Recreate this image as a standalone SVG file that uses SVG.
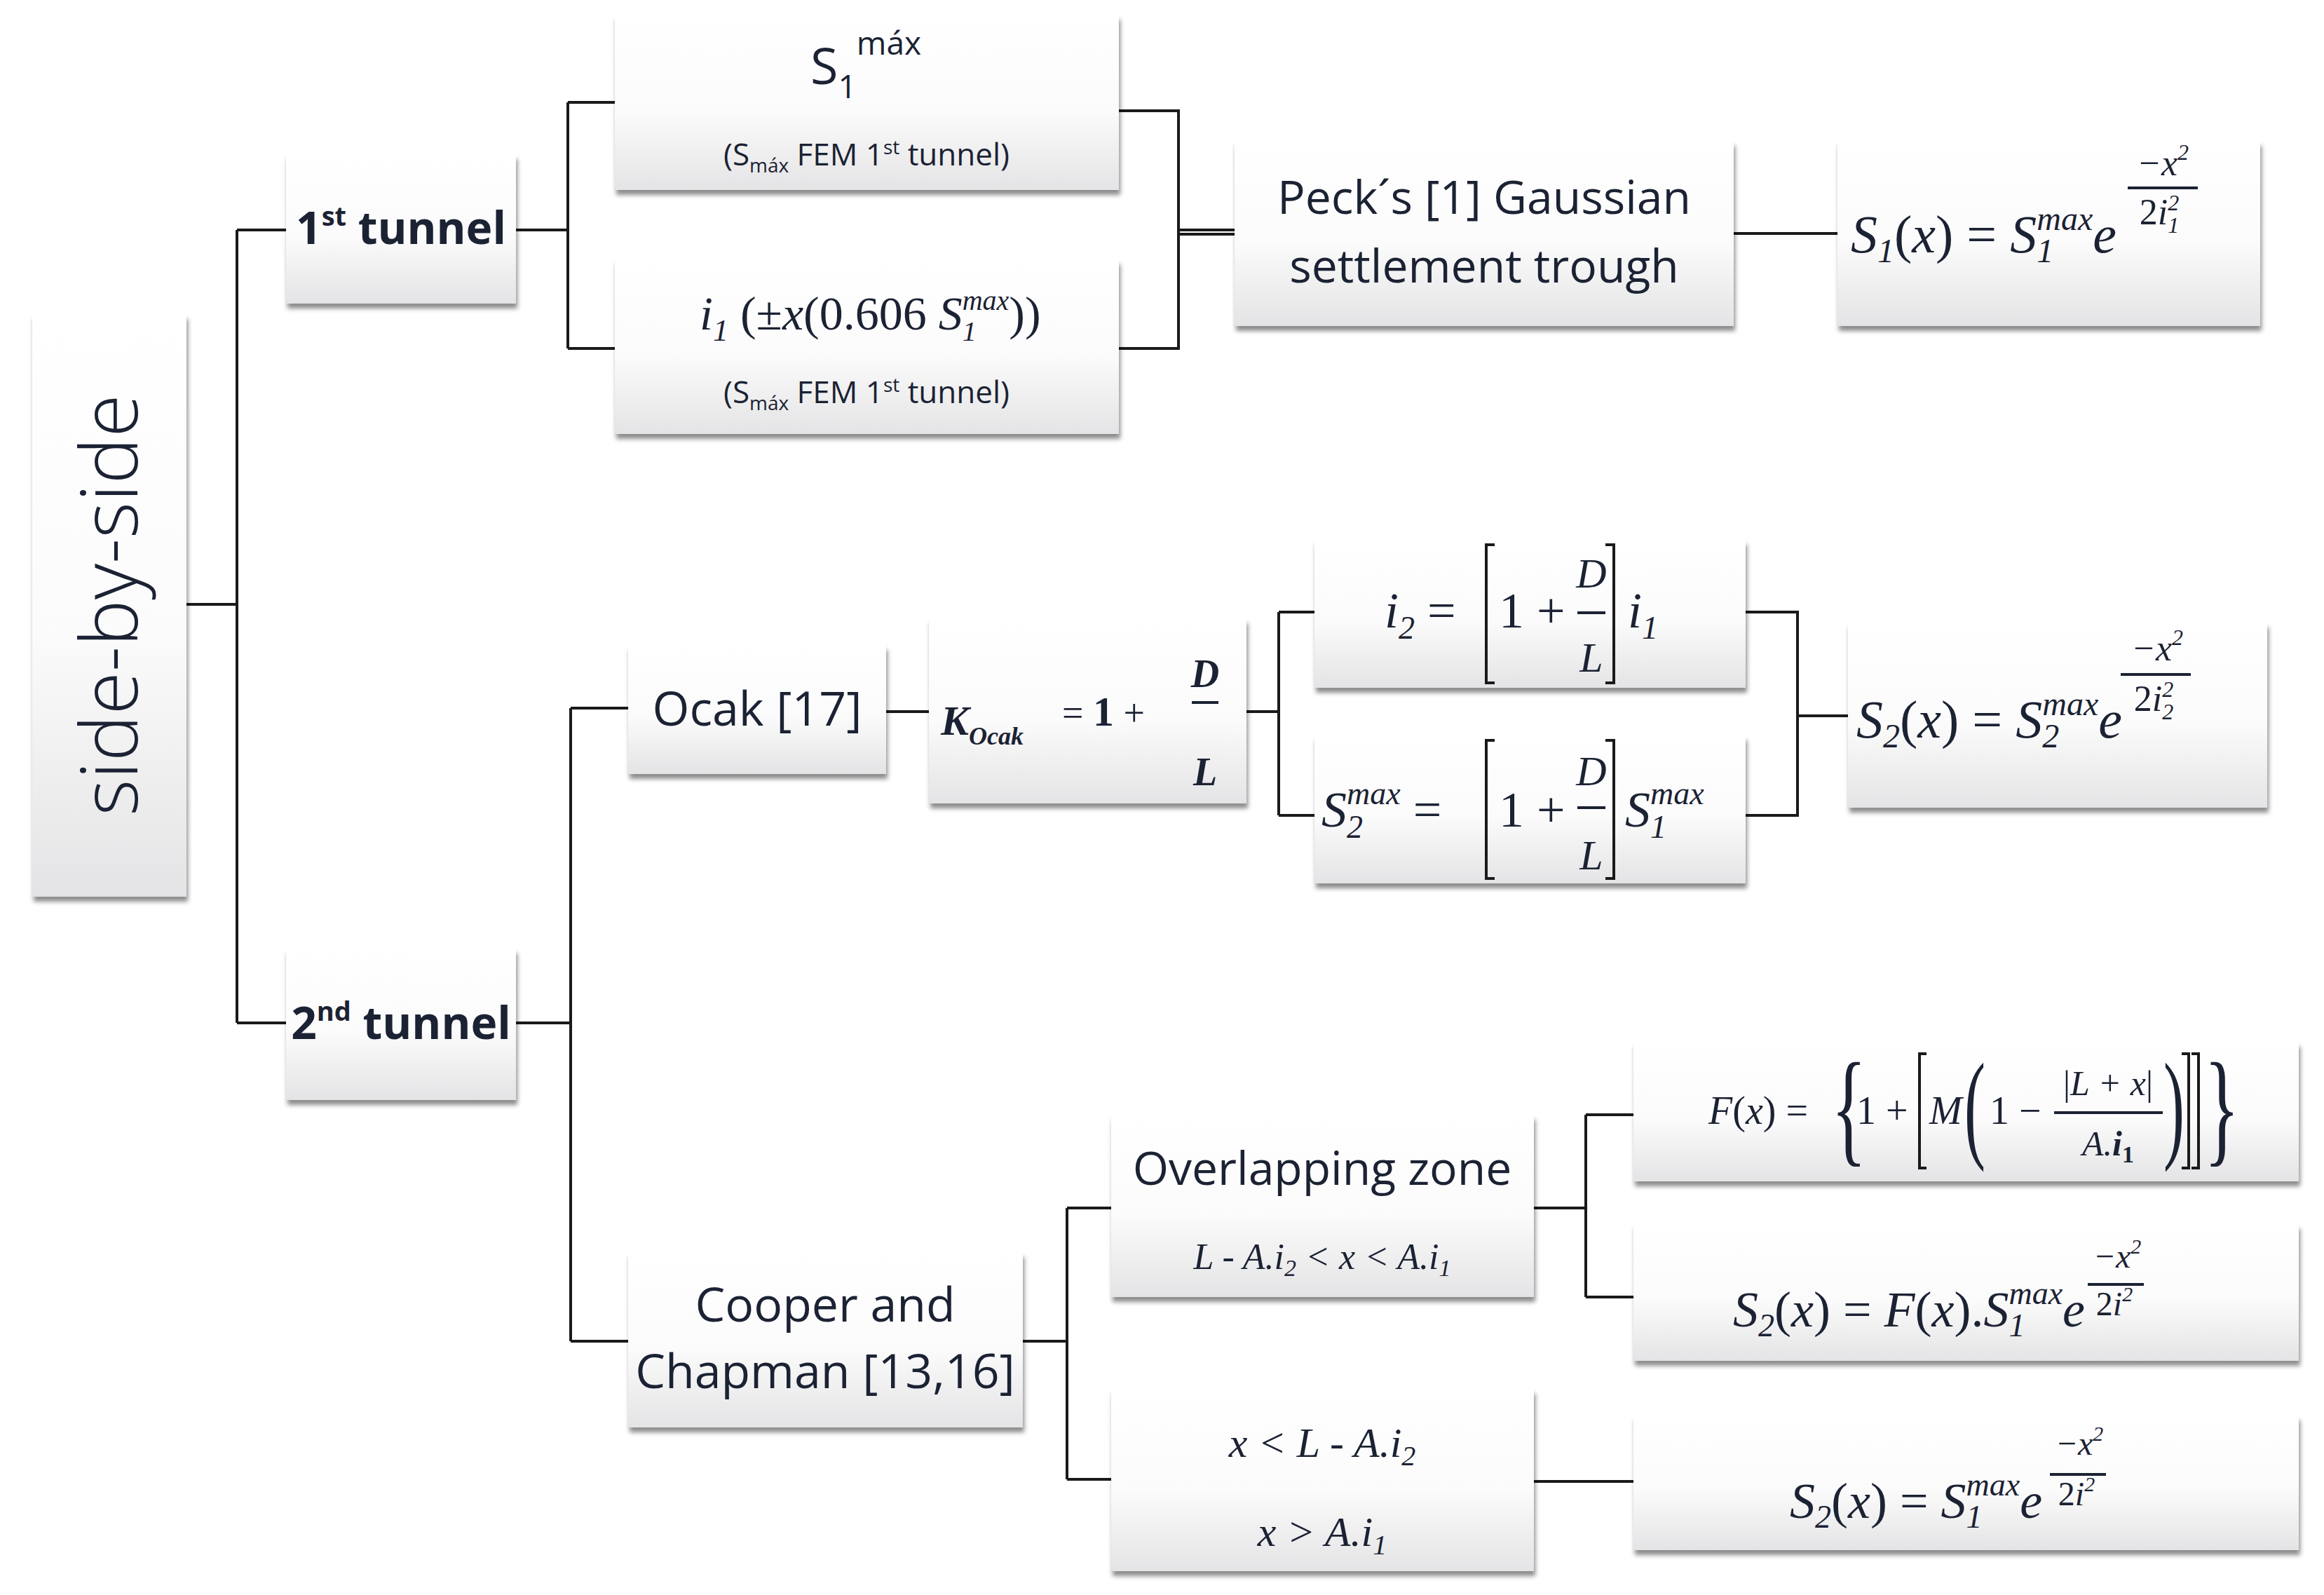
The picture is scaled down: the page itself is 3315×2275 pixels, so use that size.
<svg xmlns="http://www.w3.org/2000/svg" width="3315" height="2275" viewBox="0 0 3315 2275">
<defs>
<linearGradient id="g" x1="0" y1="0" x2="0" y2="1"><stop offset="0" stop-color="#ffffff"/><stop offset="0.55" stop-color="#fbfbfb"/><stop offset="1" stop-color="#e4e4e6"/></linearGradient>
<filter id="sh" x="-5%" y="-5%" width="110%" height="115%"><feDropShadow dx="2" dy="7" stdDeviation="3" flood-color="#000" flood-opacity="0.45"/></filter>
</defs>
<style>
.b{fill:url(#g);filter:url(#sh)}
.t{font-family:"Open Sans","Liberation Sans",sans-serif;fill:#1b2233;text-anchor:middle}
.m{font-family:"Liberation Serif",serif;font-style:italic;fill:#1b2233}
.r{font-family:"Liberation Serif",serif;fill:#1b2233}
.c{fill:none;stroke:#1a1a1a;stroke-width:4}
.fl{stroke:#1b2233;stroke-width:4}
</style>
<rect width="3315" height="2275" fill="#fff"/>
<g id="connectors" class="c">
<path d="M266 862H338M338 328V1459M338 328H408M338 1459H408"/>
<path d="M736 328H810M810 146V497M810 146H877M810 497H877"/>
<path d="M1596 158H1681V497H1596M1681 328H1761M1681 334H1761"/>
<path d="M2473 333H2621"/>
<path d="M736 1459H814M814 1010V1913M814 1010H896M814 1913H896"/>
<path d="M1264 1015H1325"/>
<path d="M1778 1015H1824M1824 873V1163M1824 873H1875M1824 1163H1875"/>
<path d="M2490 873H2564V1163H2490M2564 1021H2636"/>
<path d="M1459 1913H1522M1522 1723V2110M1522 1723H1585M1522 2110H1585"/>
<path d="M2188 1723H2262M2262 1590V1850M2262 1590H2330M2262 1850H2330"/>
<path d="M2188 2113H2330"/>
</g>
<g id="n-side"><rect class="b" x="46" y="448" width="220" height="831"/><text class="t" font-size="112" font-weight="300" transform="translate(196 863) rotate(-90)">side-by-side</text></g>
<g id="n-t1"><rect class="b" x="408" y="220" width="328" height="213"/><text class="t" font-size="64" font-weight="bold" x="572" y="348">1<tspan font-size="38" dy="-26">st</tspan><tspan dy="26"> tunnel</tspan></text></g>
<g id="n-s1max"><rect class="b" x="877" y="21" width="719" height="250"/>
<text class="t" font-size="72" x="1236" y="120" style="text-anchor:start" dx="-80">S<tspan font-size="46" dy="20">1</tspan><tspan font-size="46" dy="-62">máx</tspan></text>
<text class="t" font-size="44" x="1236" y="236">(S<tspan font-size="28" dy="10">máx</tspan><tspan dy="-10"> FEM 1</tspan><tspan font-size="28" dy="-16">st</tspan><tspan dy="16"> tunnel)</tspan></text></g>
<g id="n-i1"><rect class="b" x="877" y="370" width="719" height="249"/>
<text class="m" font-size="68" x="998" y="470">i<tspan font-size="44" dy="16">1</tspan><tspan dy="-16" font-style="normal"> (±</tspan>x<tspan font-style="normal">(0.606 </tspan>S<tspan font-size="40" dy="16">1</tspan><tspan font-size="40" dx="-20" dy="-44">max</tspan><tspan dy="28" font-style="normal">))</tspan></text>
<text class="t" font-size="44" x="1236" y="575">(S<tspan font-size="28" dy="10">máx</tspan><tspan dy="-10"> FEM 1</tspan><tspan font-size="28" dy="-16">st</tspan><tspan dy="16"> tunnel)</tspan></text></g>
<g id="n-peck"><rect class="b" x="1761" y="201" width="712" height="264"/><text class="t" font-size="66" x="2117" y="305">Peck´s [1] Gaussian</text><text class="t" font-size="66" x="2117" y="403">settlement trough</text></g>
<g id="n-s1x"><rect class="b" x="2621" y="201" width="603" height="264"/>
<text class="m" font-size="76" x="2640" y="360">S<tspan font-size="48" dy="14">1</tspan><tspan dy="-14" font-style="normal">(</tspan>x<tspan font-style="normal">) = </tspan>S<tspan font-size="48" dy="14">1</tspan><tspan font-size="48" dx="-24" dy="-46">max</tspan><tspan dy="32">e</tspan></text>
<text class="m" font-size="52" x="3085" y="250" text-anchor="middle">−x<tspan font-size="32" dy="-22">2</tspan></text>
<line class="fl" x1="3035" y1="268" x2="3135" y2="268"/>
<text class="m" font-size="52" x="3080" y="320" text-anchor="middle"><tspan font-style="normal">2</tspan>i<tspan font-size="32" dy="12">1</tspan><tspan font-size="32" dx="-16" dy="-32">2</tspan></text></g>
<g id="n-t2"><rect class="b" x="408" y="1353" width="328" height="216"/><text class="t" font-size="64" font-weight="bold" x="572" y="1482">2<tspan font-size="38" dy="-26">nd</tspan><tspan dy="26"> tunnel</tspan></text></g>
<g id="n-ocak"><rect class="b" x="896" y="920" width="368" height="184"/><text class="t" font-size="68" x="1080" y="1035">Ocak [17]</text></g>
<g id="n-kocak"><rect class="b" x="1325" y="882" width="453" height="264"/>
<text class="m" font-size="60" font-weight="bold" x="1342" y="1048">K<tspan font-size="36" dy="14">Ocak</tspan></text>
<text class="r" font-size="54" x="1515" y="1035">= <tspan font-weight="bold" font-size="60">1</tspan> +</text>
<text class="m" font-size="56" font-weight="bold" x="1719" y="980" text-anchor="middle">D</text>
<line class="fl" x1="1700" y1="1002" x2="1738" y2="1002"/>
<text class="m" font-size="56" font-weight="bold" x="1719" y="1120" text-anchor="middle">L</text></g>
<g id="n-i2"><rect class="b" x="1875" y="770" width="615" height="211"/>
<text class="m" font-size="72" x="1975" y="895">i<tspan font-size="46" dy="16">2</tspan><tspan dy="-16" font-style="normal"> =</tspan></text>
<path class="c" d="M2132 777H2120V974H2132M2290 777H2302V974H2290"/>
<text class="r" font-size="72" x="2138" y="895">1 +</text>
<text class="m" font-size="60" x="2270" y="838" text-anchor="middle">D</text>
<line class="fl" x1="2250" y1="874" x2="2290" y2="874"/>
<text class="m" font-size="60" x="2270" y="958" text-anchor="middle">L</text>
<text class="m" font-size="72" x="2322" y="895">i<tspan font-size="46" dy="16">1</tspan></text></g>
<g id="n-s2max"><rect class="b" x="1875" y="1049" width="615" height="211"/>
<text class="m" font-size="72" x="1885" y="1179">S<tspan font-size="46" dy="16">2</tspan><tspan font-size="46" dx="-23" dy="-48">max</tspan><tspan font-style="normal" dy="32"> =</tspan></text>
<path class="c" d="M2132 1056H2120V1253H2132M2290 1056H2302V1253H2290"/>
<text class="r" font-size="72" x="2138" y="1179">1 +</text>
<text class="m" font-size="60" x="2270" y="1120" text-anchor="middle">D</text>
<line class="fl" x1="2250" y1="1152" x2="2290" y2="1152"/>
<text class="m" font-size="60" x="2270" y="1240" text-anchor="middle">L</text>
<text class="m" font-size="72" x="2318" y="1179">S<tspan font-size="46" dy="16">1</tspan><tspan font-size="46" dx="-23" dy="-48">max</tspan></text></g>
<g id="n-s2x"><rect class="b" x="2636" y="888" width="598" height="264"/>
<text class="m" font-size="76" x="2648" y="1052">S<tspan font-size="48" dy="14">2</tspan><tspan dy="-14" font-style="normal">(</tspan>x<tspan font-style="normal">) = </tspan>S<tspan font-size="48" dy="14">2</tspan><tspan font-size="48" dx="-24" dy="-46">max</tspan><tspan dy="32">e</tspan></text>
<text class="m" font-size="52" x="3077" y="942" text-anchor="middle">−x<tspan font-size="32" dy="-22">2</tspan></text>
<line class="fl" x1="3025" y1="962" x2="3125" y2="962"/>
<text class="m" font-size="52" x="3072" y="1014" text-anchor="middle"><tspan font-style="normal">2</tspan>i<tspan font-size="32" dy="12">2</tspan><tspan font-size="32" dx="-16" dy="-32">2</tspan></text></g>
<g id="n-cooper"><rect class="b" x="896" y="1786" width="563" height="250"/><text class="t" font-size="68" x="1177" y="1885">Cooper and</text><text class="t" font-size="68" x="1177" y="1980">Chapman [13,16]</text></g>
<g id="n-overlap"><rect class="b" x="1585" y="1590" width="603" height="260"/><text class="t" font-size="66" x="1886" y="1690">Overlapping zone</text>
<text class="m" font-size="52" x="1886" y="1810" text-anchor="middle">L - A.i<tspan font-size="34" dy="10">2</tspan><tspan dy="-10"> &lt; x &lt; A.i</tspan><tspan font-size="34" dy="10">1</tspan></text></g>
<g id="n-xlt"><rect class="b" x="1585" y="1981" width="603" height="260"/>
<text class="m" font-size="60" x="1886" y="2078" text-anchor="middle">x &lt; L - A.i<tspan font-size="40" dy="12">2</tspan></text>
<text class="m" font-size="60" x="1886" y="2205" text-anchor="middle">x &gt; A.i<tspan font-size="40" dy="12">1</tspan></text></g>
<g id="n-fx"><rect class="b" x="2330" y="1486" width="949" height="199"/>
<text class="m" font-size="56" x="2437" y="1603">F<tspan font-style="normal">(</tspan>x<tspan font-style="normal">) =</tspan></text>
<text class="r" font-size="150" x="2612" y="1640" transform="translate(2612 1640) scale(0.7 1.2) translate(-2612 -1640)">{</text>
<text class="r" font-size="56" x="2648" y="1603">1 +</text>
<path class="c" d="M2748 1503H2738V1666H2748M3112 1503H3122V1666H3112M3126 1503H3136V1666H3126" stroke-width="3"/>
<text class="m" font-size="56" x="2752" y="1603">M</text>
<text class="r" font-size="150" x="2802" y="1635" transform="translate(2802 1635) scale(0.6 1.15) translate(-2802 -1635)">(</text>
<text class="r" font-size="56" x="2838" y="1603">1 −</text>
<text class="m" font-size="50" x="3007" y="1562" text-anchor="middle"><tspan font-style="normal">|</tspan>L + x<tspan font-style="normal">|</tspan></text>
<line class="fl" x1="2930" y1="1587" x2="3085" y2="1587" stroke-width="3"/>
<text class="m" font-size="50" x="3007" y="1648" text-anchor="middle">A.<tspan font-weight="bold">i</tspan><tspan font-size="34" font-weight="bold" font-style="normal" dy="10">1</tspan></text>
<text class="r" font-size="150" x="3086" y="1635" transform="translate(3086 1635) scale(0.6 1.15) translate(-3086 -1635)">)</text>
<text class="r" font-size="150" x="3144" y="1640" transform="translate(3144 1640) scale(0.7 1.2) translate(-3144 -1640)">}</text></g>
<g id="n-s2f"><rect class="b" x="2330" y="1746" width="949" height="195"/>
<text class="m" font-size="72" x="2472" y="1892">S<tspan font-size="46" dy="14">2</tspan><tspan dy="-14" font-style="normal">(</tspan>x<tspan font-style="normal">) = </tspan>F<tspan font-style="normal">(</tspan>x<tspan font-style="normal">).</tspan>S<tspan font-size="46" dy="14">1</tspan><tspan font-size="46" dx="-23" dy="-46">max</tspan><tspan dy="32">e</tspan></text>
<text class="m" font-size="48" x="3020" y="1808" text-anchor="middle">−x<tspan font-size="30" dy="-20">2</tspan></text>
<line class="fl" x1="2978" y1="1832" x2="3058" y2="1832"/>
<text class="m" font-size="48" x="3016" y="1876" text-anchor="middle"><tspan font-style="normal">2</tspan>i<tspan font-size="30" dy="-20">2</tspan></text></g>
<g id="n-s2b"><rect class="b" x="2330" y="2019" width="949" height="192"/>
<text class="m" font-size="72" x="2553" y="2165">S<tspan font-size="46" dy="14">2</tspan><tspan dy="-14" font-style="normal">(</tspan>x<tspan font-style="normal">) = </tspan>S<tspan font-size="46" dy="14">1</tspan><tspan font-size="46" dx="-23" dy="-46">max</tspan><tspan dy="32">e</tspan></text>
<text class="m" font-size="48" x="2966" y="2075" text-anchor="middle">−x<tspan font-size="30" dy="-20">2</tspan></text>
<line class="fl" x1="2924" y1="2103" x2="3004" y2="2103"/>
<text class="m" font-size="48" x="2962" y="2147" text-anchor="middle"><tspan font-style="normal">2</tspan>i<tspan font-size="30" dy="-20">2</tspan></text></g>
</svg>
